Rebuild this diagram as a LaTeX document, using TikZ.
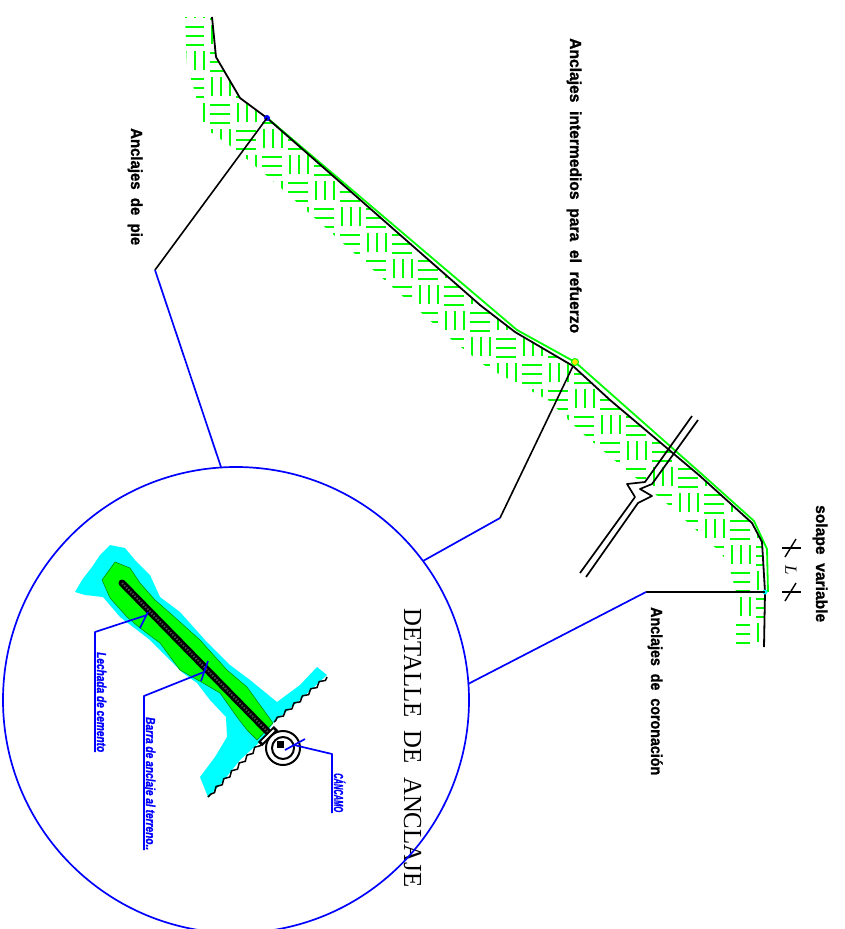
\documentclass[tikz,border=0pt]{standalone}
\usepackage{fontspec}
\setmainfont{Liberation Serif}
\setsansfont{Liberation Sans}
\newfontfamily\heavysans{Liberation Sans}[BoldFeatures={FakeBold=1.2},
  BoldItalicFeatures={FakeBold=1.2}]
\usepackage{graphicx}
\usetikzlibrary{calc,decorations.pathmorphing}

\definecolor{soil}{RGB}{0,255,0}
\definecolor{grout}{RGB}{0,255,255}
\definecolor{callout}{RGB}{0,0,255}
\definecolor{mark}{RGB}{255,230,0}

% stretch a text horizontally to a given length, keeping its height
\newcommand{\stretchto}[2]{\resizebox{#1}{\height}{#2}}

\begin{document}
\begin{tikzpicture}[x=1pt,y=-1pt,line join=round,
  groundline/.style={line width=1.8pt,black},
  surfline/.style={line width=1.8pt,soil},
  hatchline/.style={line width=2pt,soil},
  leader/.style={line width=1.6pt,black},
  blueleader/.style={line width=1.7pt,callout},
  toplabel/.style={rotate=-90,anchor=base west,inner sep=0pt,
    font=\fontsize{16}{18}\selectfont\heavysans\bfseries},
  notelabel/.style={rotate=-90,anchor=base west,inner sep=0pt,text=callout,
    font=\fontsize{13}{15}\selectfont\heavysans\bfseries\itshape},
  breakline/.style={line width=1.7pt,black}]

\useasboundingbox (0,0) rectangle (844,929);

% ---------- earth hatching on the soil side of the slope ----------
\begin{scope}
  \clip (212,17) -- (216,57) -- (240,98) -- (267,118) -- (300,147)
    -- (480,305) -- (515,332) -- (573,367) -- (610,400) -- (700,476)
    -- (752,523) -- (762,542) -- (765,592) -- (764,647)
    -- (736,647) -- (736,592) -- (728,562) -- (718,550) -- (672,508)
    -- (582,433) -- (548,400) -- (488,368) -- (452,340) -- (272,180)
    -- (236,150) -- (205,128) -- (187,65) -- (185,17) -- cycle;
  \foreach \i in {7,...,30}{
    \foreach \j in {0,...,26}{
      \pgfmathtruncatemacro\cellkind{mod(\i+\j,2)}
      \ifnum\cellkind=0
        \foreach \k in {1,10,19}{\draw[hatchline] (\i*26+2,\j*26+\k) -- ++(20,0);}
      \else
        \foreach \k in {4,13,22}{\draw[hatchline] (\i*26+\k,\j*26-1) -- ++(0,19);}
      \fi
    }
  }
\end{scope}

% ---------- slope profile ----------
\coordinate (footA) at (267,118);
\coordinate (midA) at (573,366);
\coordinate (crestA) at (765,592);

\draw[surfline] (265,116) -- (517,330) -- (575,362) -- (705,477)
  -- (754,521) -- (767,549) -- (768,592);
\draw[groundline] (212,17) -- (216,57) -- (240,98) -- (footA) -- (300,147)
  -- (480,305) -- (515,332) -- (midA) -- (610,400) -- (700,476)
  -- (752,523) -- (762,542) -- (crestA) -- (764,647);

\fill[callout] (footA) circle (3);
\filldraw[fill=mark,draw=soil,line width=1pt] (575,362) circle (3.5);
\fill[grout] (crestA) circle (2.5);

% ---------- break symbol ----------
\draw[breakline] (692,416) -- (645,482) -- (627,484) -- (635,497)
  -- (630,504) -- (580,573);
\draw[breakline] (698,420) -- (652,484) -- (640,489) -- (652,496)
  -- (638,503) -- (586,577);

% ---------- overlap dimension ----------
\draw[line width=1.4pt] (782,548) -- (801,548);
\draw[line width=1.4pt] (785,557) -- (796,539);
\draw[line width=1.4pt] (782,592) -- (801,592);
\draw[line width=1.4pt] (785,601) -- (796,583);
\node[rotate=-90,inner sep=0pt,font=\fontsize{17}{18}\selectfont\itshape] (dimL) at (791,570) {L};

% ---------- labels ----------
\node[toplabel] (lblMid) at (570,38)
  {\stretchto{295pt}{Anclajes\ \ intermedios\ \ para\ \ el\ \ refuerzo}};
\node[toplabel] (lblFoot) at (131,128)
  {\stretchto{117pt}{Anclajes\ \ de\ \ pie}};
\node[toplabel] (lblCrest) at (651,607)
  {\stretchto{168pt}{Anclajes\ \ de\ \ coronación}};
\node[toplabel] (lblLap) at (816,505)
  {\stretchto{117pt}{solape\ \ variable}};
\node[rotate=-90,anchor=base west,inner sep=0pt,
  font=\fontsize{26}{28}\selectfont] (title) at (404,608)
  {\stretchto{279pt}{DETALLE\hspace{14pt}DE\hspace{14pt}ANCLAJE}};

% ---------- detail circle and its leaders ----------
\coordinate (ring) at (236,700);
\draw[blueleader] (ring) circle (233);

\coordinate (kneeFoot) at (155,270);
\coordinate (kneeMid) at (500,518);
\coordinate (kneeCrest) at (646,592);
\coordinate (hitFoot) at (221,467);
\coordinate (hitMid) at (423,561);
\coordinate (hitCrest) at (468,684);

\draw[leader] (footA) -- (kneeFoot);
\draw[blueleader] (kneeFoot) -- (hitFoot);
\draw[leader] (midA) -- (kneeMid);
\draw[blueleader] (kneeMid) -- (hitMid);
\draw[leader] (crestA) -- (kneeCrest);
\draw[blueleader] (kneeCrest) -- (hitCrest);

% ---------- anchor detail ----------
\fill[grout] (110,545) -- (125,548) -- (135,560) -- (150,575) -- (160,597)
  -- (180,612) -- (205,640) -- (230,665) -- (250,680) -- (277,702)
  -- (300,685) -- (317,667) -- (327,675) -- (300,700) -- (274,722)
  -- (262,740) -- (240,760) -- (220,785) -- (208,797) -- (200,777)
  -- (215,757) -- (227,737) -- (226,717) -- (210,700) -- (197,683)
  -- (183,673) -- (165,655) -- (150,640) -- (137,630) -- (120,617)
  -- (103,597) -- (85,595) -- (75,592) -- (82,580) -- (92,567)
  -- (100,555) -- cycle;
\filldraw[fill=soil,draw=green!50!black,line width=0.5pt]
  (102,580) -- (115,562) -- (130,568) -- (140,583) -- (155,600)
  -- (170,613) -- (200,640) -- (227,670) -- (247,687) -- (273,723)
  -- (257,740) -- (247,730) -- (237,717) -- (220,693) -- (203,683)
  -- (180,670) -- (160,643) -- (140,628) -- (127,617) -- (110,598) -- cycle;

\draw[line width=1.5pt,decorate,
  decoration={snake,segment length=11pt,amplitude=1.6pt}]
  (327,677) -- (274,722);
\draw[line width=1.5pt,decorate,
  decoration={snake,segment length=11pt,amplitude=1.6pt}]
  (262,742) -- (208,797);

\coordinate (barTop) at (122,583);
\coordinate (barEnd) at (268,732);
\draw[line width=7pt,line cap=round,black] (barTop) -- (barEnd);
\draw[line width=2pt,black!70,dash pattern=on 1.5pt off 1.5pt] (barTop) -- (barEnd);

\draw[line width=6pt,black] (260,744) -- (276,728);
\draw[line width=2pt,white] (262,742) -- (274,730);

\coordinate (eye) at (283,748);
\draw[line width=2pt] (eye) circle (17);
\draw[line width=2pt] (eye) circle (11);
\fill[black] (277,741) rectangle (284,748);

% detail callouts
\coordinate (tipGrout) at (147,615);
\coordinate (elbGrout) at (95,632);
\coordinate (endGrout) at (95,752);
\draw[blueleader] (endGrout) -- (elbGrout) -- (tipGrout);
\draw[blueleader] (140,628) -- (148,612);
\node[notelabel] (lblGrout) at (97,652)
  {\stretchto{100pt}{Lechada de cemento}};

\coordinate (tipBar) at (204,672);
\coordinate (elbBar) at (144,696);
\coordinate (endBar) at (144,850);
\draw[blueleader] (endBar) -- (elbBar) -- (tipBar);
\draw[blueleader] (201,681) -- (208,661);
\node[notelabel] (lblBar) at (146,717)
  {\stretchto{133pt}{Barra de anclaje al terreno..}};

\coordinate (tipEye) at (285,750);
\coordinate (elbEye) at (332,754);
\coordinate (endEye) at (332,813);
\draw[blueleader] (tipEye) -- (305,739);
\draw[blueleader] (294,745) -- (elbEye) -- (endEye);
\node[notelabel] (lblEye) at (334,773)
  {\stretchto{39pt}{CÁNCAMO}};

\end{tikzpicture}
\end{document}
